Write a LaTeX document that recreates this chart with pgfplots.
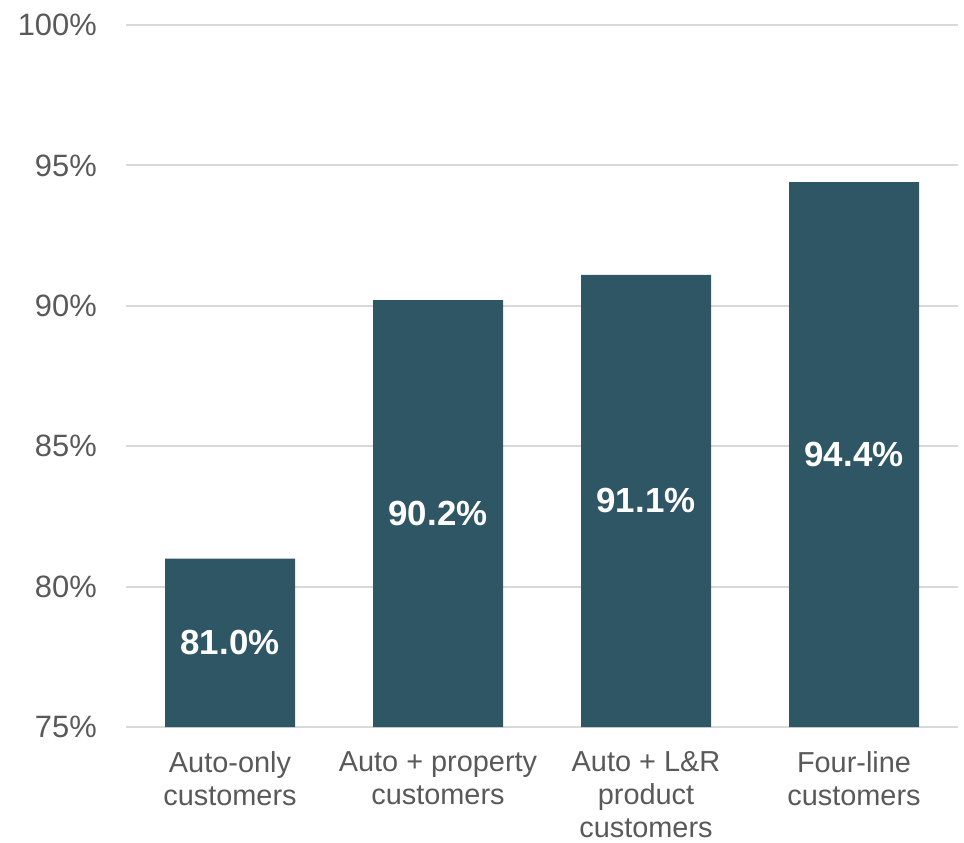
\documentclass[border=0pt]{standalone}
\usepackage{fontspec}
\setmainfont{Liberation Sans}
\usepackage{pgfplots}
\pgfplotsset{compat=1.18}
\definecolor{barc}{HTML}{2F5664}
\definecolor{txt}{HTML}{595959}
\definecolor{grd}{HTML}{D9D9D9}
\begin{document}
\begin{tikzpicture}
\useasboundingbox (0,0) rectangle (964bp,843bp);
\begin{axis}[
 at={(126bp,116bp)}, anchor=south west,
 scale only axis, width=832bp, height=702bp,
 xmin=-0.5, xmax=3.5, ymin=75, ymax=100,
 ytick={75,80,85,90,95,100},
 yticklabels={75\%,80\%,85\%,90\%,95\%,100\%},
 xtick={0,1,2,3},
 xticklabels={Auto-only\\customers, Auto + property\\customers, Auto + L\&R\\product\\customers, Four-line\\customers},
 axis line style={draw=none},
 tick style={draw=none},
 major tick length=0pt,
 ymajorgrids, grid style={grd, line width=2bp},
 yticklabel style={anchor=base east, inner sep=0pt, xshift=-29bp, yshift=-10.7bp, font=\fontsize{31}{36}\selectfont, text=txt},
 xticklabel style={anchor=north, inner sep=0pt, yshift=-24.5bp, align=center, font=\fontsize{29}{33}\selectfont, text=txt},
 ybar, bar width=130bp,
]
\addplot[fill=barc, draw=none, point meta=explicit symbolic, nodes near coords,
  visualization depends on=rawy \as \rawy,
  nodes near coords style={anchor=center, inner sep=0pt, text=white, font=\fontsize{35}{40}\selectfont\bfseries, shift={(axis direction cs:0,{-(\rawy-75)/2})}}]
  coordinates {(0,81.0) [81.0\%] (1,90.2) [90.2\%] (2,91.1) [91.1\%] (3,94.4) [94.4\%]};
\end{axis}
\end{tikzpicture}
\end{document}
